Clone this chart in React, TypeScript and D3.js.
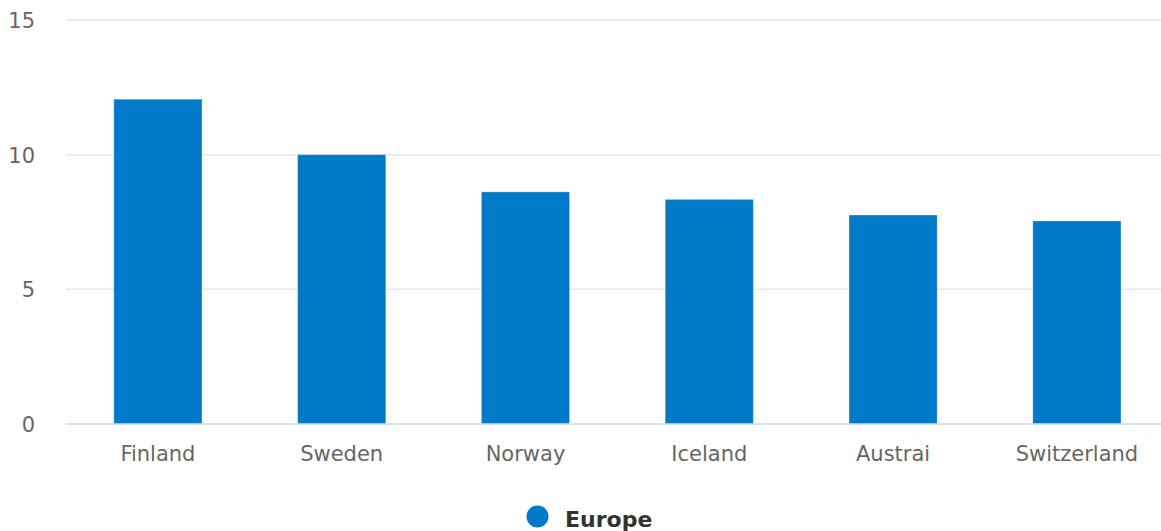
import React, { useLayoutEffect } from "react";
import * as d3 from "d3";

const categories = ["Finland", "Sweden", "Norway", "Iceland", "Austrai", "Switzerland"];
const values = [12.06, 10.0, 8.62, 8.34, 7.76, 7.54];
const yTicks = [0, 5, 10, 15];
const seriesName = "Europe";

const W = 1161;
const H = 531;
const left = 66;
const step = 183.8;
const top = 20;
const bottom = 424;

export default function App() {
  useLayoutEffect(() => {
    document.body.style.margin = "0";
  }, []);

  const x = d3
    .scaleBand<string>()
    .domain(categories)
    .range([left, left + step * categories.length])
    .paddingInner(0.52)
    .paddingOuter(0.26);
  const y = d3.scaleLinear().domain([0, 15]).range([bottom, top]);
  const font = "'DejaVu Sans', Verdana, sans-serif";

  return (
    <svg width={W} height={H} style={{ display: "block" }} fontFamily={font}>
      <rect width={W} height={H} fill="#ffffff" />
      {yTicks.map((t) =>
        t === 0 ? null : (
          <line key={"g" + t} x1={left} x2={W} y1={y(t)} y2={y(t)} stroke="#e6e6e6" strokeWidth={1.5} />
        )
      )}
      {yTicks.map((t) => (
        <text key={"yl" + t} x={35} y={y(t) + 8} textAnchor="end" fontSize={21} fill="#666666">
          {t}
        </text>
      ))}
      {categories.map((c, i) => (
        <rect
          key={c}
          x={x(c)}
          y={y(values[i])}
          width={x.bandwidth()}
          height={y(0) - y(values[i])}
          fill="#0079c8"
          stroke="#ffffff"
          strokeOpacity={0.35}
          strokeWidth={1}
        />
      ))}
      <line x1={left} x2={W} y1={y(0)} y2={y(0)} stroke="#ccd6eb" strokeWidth={1.5} />
      {categories.map((c) => (
        <text
          key={"xl" + c}
          x={(x(c) as number) + x.bandwidth() / 2}
          y={461}
          textAnchor="middle"
          fontSize={21}
          fill="#666666"
        >
          {c}
        </text>
      ))}
      <g>
        <circle cx={537.5} cy={516.5} r={11} fill="#0079c8" />
        <text x={565} y={527} fontSize={22} fontWeight="bold" fill="#333333">
          {seriesName}
        </text>
      </g>
    </svg>
  );
}
